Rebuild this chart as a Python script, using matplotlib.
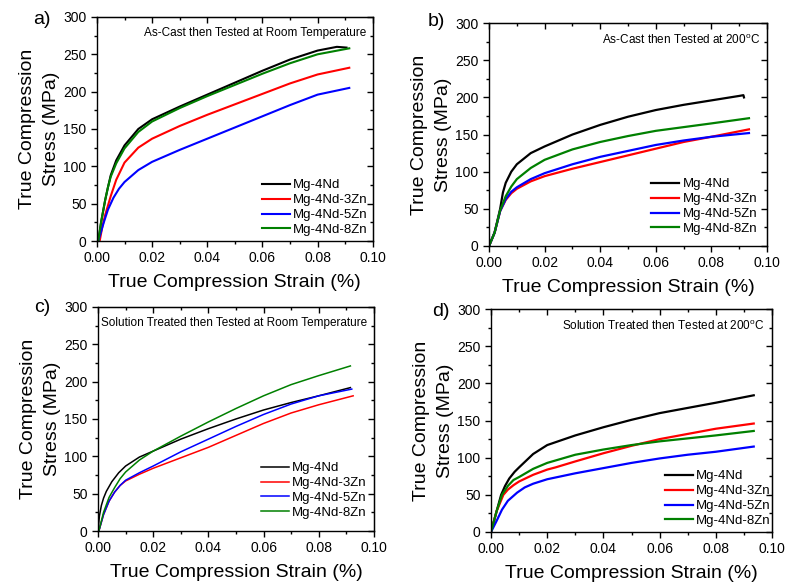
import numpy as np
from matplotlib import pyplot as plt
from matplotlib.ticker import MultipleLocator

plt.rcParams['font.family'] = ['Liberation Sans', 'DejaVu Sans']

labels = ['Mg-4Nd', 'Mg-4Nd-3Zn', 'Mg-4Nd-5Zn', 'Mg-4Nd-8Zn']
colors = ['black', '#ff0000', '#0000ff', '#008000']

# a) as-cast, room temperature
a_nd_x = [0.0005, 0.0015, 0.003, 0.004, 0.005, 0.007, 0.01, 0.015, 0.02, 0.03, 0.04, 0.05, 0.06, 0.07, 0.08, 0.087, 0.0905]
a_nd_y = [0, 25, 55, 72, 88, 108, 128, 150, 163, 180, 196, 212, 228, 243, 255, 260, 259]
a_3zn_x = [0.001, 0.002, 0.003, 0.005, 0.007, 0.01, 0.015, 0.02, 0.03, 0.04, 0.05, 0.06, 0.07, 0.08, 0.0915]
a_3zn_y = [0, 20, 35, 60, 82, 105, 125, 137, 154, 169, 183, 197, 211, 223, 232]
a_5zn_x = [0.0005, 0.0025, 0.004, 0.006, 0.008, 0.01, 0.015, 0.02, 0.03, 0.04, 0.05, 0.06, 0.07, 0.08, 0.0915]
a_5zn_y = [0, 25, 42, 58, 70, 79, 95, 106, 122, 137, 152, 167, 182, 196, 205]
a_8zn_x = [0.0005, 0.0015, 0.003, 0.004, 0.005, 0.007, 0.01, 0.015, 0.02, 0.03, 0.04, 0.05, 0.06, 0.07, 0.08, 0.0915]
a_8zn_y = [0, 25, 55, 72, 86, 104, 124, 146, 160, 178, 194, 209, 224, 238, 250, 258]

# b) as-cast, 200C
b_nd_x = [0, 0.002, 0.004, 0.005, 0.006, 0.008, 0.01, 0.015, 0.02, 0.03, 0.04, 0.05, 0.06, 0.07, 0.08, 0.09, 0.0915, 0.0917]
b_nd_y = [0, 18, 50, 72, 85, 100, 110, 125, 134, 150, 163, 174, 183, 190, 196, 202, 203, 200]
b_3zn_x = [0, 0.002, 0.004, 0.006, 0.008, 0.01, 0.015, 0.02, 0.03, 0.04, 0.05, 0.06, 0.07, 0.08, 0.0935]
b_3zn_y = [0, 18, 47, 62, 71, 77, 87, 94, 104, 113, 122, 131, 140, 147, 157]
b_5zn_x = [0, 0.002, 0.004, 0.006, 0.008, 0.01, 0.015, 0.02, 0.03, 0.04, 0.05, 0.06, 0.07, 0.08, 0.0935]
b_5zn_y = [0, 18, 47, 63, 73, 79, 90, 98, 110, 120, 128, 136, 142, 147, 152]
b_8zn_x = [0, 0.002, 0.004, 0.006, 0.008, 0.01, 0.015, 0.02, 0.03, 0.04, 0.05, 0.06, 0.07, 0.08, 0.0935]
b_8zn_y = [0, 18, 48, 67, 80, 90, 105, 116, 130, 140, 148, 155, 160, 165, 172]

# c) solution treated, room temperature
c_nd_x = [0, 0.0005, 0.0012, 0.002, 0.003, 0.005, 0.0075, 0.01, 0.015, 0.02, 0.03, 0.04, 0.05, 0.06, 0.07, 0.08, 0.0915]
c_nd_y = [0, 20, 34, 44, 53, 66, 78, 87, 99, 107, 123, 137, 150, 162, 172, 181, 192]
c_3zn_x = [0.0003, 0.002, 0.004, 0.006, 0.008, 0.01, 0.015, 0.02, 0.03, 0.04, 0.05, 0.06, 0.07, 0.08, 0.0925]
c_3zn_y = [0, 22, 40, 52, 61, 67, 76, 84, 98, 112, 128, 144, 158, 169, 181]
c_5zn_x = [0.0003, 0.002, 0.004, 0.006, 0.008, 0.01, 0.015, 0.02, 0.03, 0.04, 0.05, 0.06, 0.07, 0.08, 0.092]
c_5zn_y = [0, 22, 40, 52, 61, 68, 78, 87, 106, 123, 140, 156, 170, 181, 190]
c_8zn_x = [0.0003, 0.002, 0.004, 0.006, 0.008, 0.01, 0.015, 0.02, 0.025, 0.03, 0.04, 0.05, 0.06, 0.07, 0.08, 0.0915]
c_8zn_y = [0, 25, 45, 58, 70, 79, 95, 107, 117, 127, 146, 164, 181, 196, 208, 221]

# d) solution treated, 200C
d_nd_x = [0, 0.002, 0.0036, 0.005, 0.0065, 0.0084, 0.01, 0.015, 0.02, 0.03, 0.04, 0.05, 0.06, 0.07, 0.08, 0.0935]
d_nd_y = [0, 28, 50, 62, 72, 81, 87, 105, 117, 130, 141, 151, 160, 167, 174, 184]
d_3zn_x = [0, 0.002, 0.0044, 0.006, 0.008, 0.01, 0.015, 0.02, 0.023, 0.03, 0.04, 0.05, 0.06, 0.07, 0.08, 0.0935]
d_3zn_y = [0, 28, 50, 57, 63, 68, 77, 84, 87, 95, 106, 116, 125, 132, 139, 146]
d_5zn_x = [0, 0.002, 0.0039, 0.006, 0.0093, 0.012, 0.015, 0.02, 0.03, 0.04, 0.05, 0.06, 0.07, 0.08, 0.0935]
d_5zn_y = [0, 15, 30, 42, 53, 60, 65, 71, 79, 86, 93, 99, 104, 108, 115]
d_8zn_x = [0, 0.002, 0.0039, 0.006, 0.008, 0.01, 0.015, 0.02, 0.03, 0.04, 0.05, 0.06, 0.07, 0.08, 0.0935]
d_8zn_y = [0, 28, 50, 62, 70, 74, 85, 93, 104, 111, 117, 122, 126, 130, 136]

panels = [
    ('a)', 'As-Cast then Tested at Room Temperature',
     [(a_nd_x, a_nd_y), (a_3zn_x, a_3zn_y), (a_5zn_x, a_5zn_y), (a_8zn_x, a_8zn_y)],
     [0.123, 0.588, 0.350, 0.383], 1.5, (42, 20), (0.982, 0.022)),
    ('b)', r'As-Cast then Tested at 200$^\mathregular{o}$C',
     [(b_nd_x, b_nd_y), (b_3zn_x, b_3zn_y), (b_5zn_x, b_5zn_y), (b_8zn_x, b_8zn_y)],
     [0.6206, 0.5795, 0.3528, 0.381], 1.6, (436, 22), (0.964, 0.049)),
    ('c)', 'Solution Treated then Tested at Room Temperature',
     [(c_nd_x, c_nd_y), (c_3zn_x, c_3zn_y), (c_5zn_x, c_5zn_y), (c_8zn_x, c_8zn_y)],
     [0.1244, 0.0923, 0.350, 0.383], 1.1, (42, 308), (0.975, 0.054)),
    ('d)', r'Solution Treated then Tested at 200$^\mathregular{o}$C',
     [(d_nd_x, d_nd_y), (d_3zn_x, d_3zn_y), (d_5zn_x, d_5zn_y), (d_8zn_x, d_8zn_y)],
     [0.6231, 0.0906, 0.3566, 0.381], 1.6, (441, 312), (0.995, 0.022)),
]

fig = plt.figure(figsize=(7.88, 5.85), dpi=100)

for tag, note, series, rect, lw, tagpos, legpos in panels:
    ax = fig.add_axes(rect)
    for (x, y), lab, col in zip(series, labels, colors):
        ax.plot(x, y, color=col, lw=lw, label=lab)
    ax.set_xlim(0, 0.10)
    ax.set_ylim(0, 300)
    ax.xaxis.set_major_locator(MultipleLocator(0.02))
    ax.xaxis.set_minor_locator(MultipleLocator(0.01))
    ax.yaxis.set_major_locator(MultipleLocator(50))
    ax.yaxis.set_minor_locator(MultipleLocator(25))
    ax.xaxis.set_major_formatter(plt.FormatStrFormatter('%.2f'))
    ax.tick_params(which='major', direction='out', length=4, width=1, labelsize=10)
    ax.tick_params(which='minor', direction='out', length=2.5, width=1)
    for s in ax.spines.values():
        s.set_linewidth(1.0)
    # mirrored ticks pointing inward on top and right
    top = ax.secondary_xaxis('top')
    top.xaxis.set_major_locator(MultipleLocator(0.02))
    top.xaxis.set_minor_locator(MultipleLocator(0.01))
    top.tick_params(which='major', direction='in', length=4, width=1, labeltop=False)
    top.tick_params(which='minor', direction='in', length=2.5, width=1)
    right = ax.secondary_yaxis('right')
    right.yaxis.set_major_locator(MultipleLocator(50))
    right.yaxis.set_minor_locator(MultipleLocator(25))
    right.tick_params(which='major', direction='in', length=4, width=1, labelright=False)
    right.tick_params(which='minor', direction='in', length=2.5, width=1)

    ax.set_xlabel('True Compression Strain (%)', fontsize=14, labelpad=6)
    ax.set_ylabel('True Compression\nStress (MPa)', fontsize=14, labelpad=2, linespacing=1.6)
    ax.text(0.975, 0.955, note, transform=ax.transAxes, ha='right', va='top', fontsize=8.5)
    ax.legend(loc='lower right', bbox_to_anchor=legpos, frameon=False, fontsize=9.5,
              handlelength=2.1, handletextpad=0.25, labelspacing=0.2,
              borderpad=0, borderaxespad=0)
    fig.text(tagpos[0] / 788, 1 - tagpos[1] / 585, tag, fontsize=14, ha='center', va='center')

plt.savefig('out.png', dpi=100)
